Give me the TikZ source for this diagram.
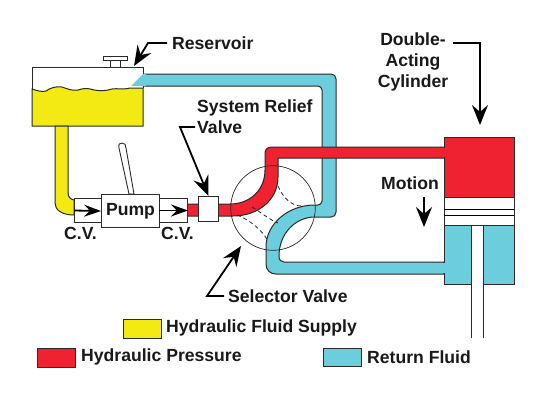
\documentclass[tikz,border=0pt]{standalone}
\usepackage{fontspec}
\setmainfont{Liberation Sans}
\usetikzlibrary{arrows.meta}
\definecolor{hyY}{HTML}{F2EA12}
\definecolor{hyR}{HTML}{EE2230}
\definecolor{hyB}{HTML}{6CCDDD}
\definecolor{edge}{HTML}{2A2A2A}
\tikzset{
 lab/.style={font=\bfseries\fontsize{17.6}{21}\selectfont,inner sep=0pt,text=black!90,align=left},
 whitebox/.style={draw=edge,fill=white,line width=1pt,inner sep=0pt,minimum width=0pt},
 lead/.style={draw=black,line width=1.8pt,-{Stealth[length=20pt,width=16pt,inset=7pt]}},
 small/.style={draw=black,line width=1.8pt,-{Stealth[length=17pt,width=12pt,inset=6pt]}},
 key/.style={draw=edge,line width=1pt,inner sep=0pt,anchor=north west},
 dsh/.style={draw=edge,line width=.8pt,dash pattern=on 4pt off 3pt}
}
\begin{document}
\begin{tikzpicture}[x=1pt,y=-1pt]
\useasboundingbox (0,0) rectangle (540,405);
\fill[white] (0,0) rectangle (540,405);
% blue return line to the reservoir
\path[fill=hyB,draw=edge,line width=1pt] (143,74) -- (331,74) .. controls (334,74) and (336,76) .. (336,79) -- (336,212) .. controls (336,215) and (334,217) .. (331,217) -- (315,217) .. controls (295,217) and (279,234) .. (279,256) .. controls (279,260) and (281,262) .. (284,262) -- (444,262) -- (444,274) -- (276,274) .. controls (270,274) and (266,270) .. (266,264) -- (266,247) .. controls (266,224) and (288,205) .. (315,205) -- (318,205) .. controls (320,205) and (322,203) .. (322,201) -- (322,90) .. controls (322,88) and (320,86) .. (318,86) -- (143,86) -- cycle;
% reservoir
\path[fill=white] (32,67) rectangle (143,126);
\fill[hyB] (131,86) -- (143,74) -- (146,74) -- (146,86) -- cycle;
\path[fill=hyY,draw=edge,line width=1pt] (32,89) .. controls (38,91) and (42,92) .. (46,91) .. controls (50,88) and (56,86) .. (62,87) .. controls (68,89) and (72,91) .. (78,90) .. controls (84,88) and (88,88) .. (94,90) .. controls (100,91) and (106,91) .. (112,89) .. controls (118,88) and (122,90) .. (130,88) -- (143,88) -- (143,126) -- (32,126) -- cycle;
\draw[edge,line width=1pt] (32,89) -- (32,67) -- (143,67) -- (143,74);
\draw[edge,line width=1pt] (143,86) -- (143,88);
\draw[edge,fill=white,line width=.8pt] (110,60) rectangle (120,67);
\draw[edge,fill=white,line width=.8pt] (103,56) rectangle (127,60);
% supply pipe
\path[fill=hyY,draw=edge,line width=1pt] (55,126) -- (55,203) .. controls (55,210) and (62,215) .. (74,215) -- (74,200) .. controls (70,199) and (68,197) .. (68,192) -- (68,126) -- cycle;
% handle
\path[fill=white,draw=edge,line width=.9pt] (129,194) -- (119,148) .. controls (118,144) and (120,143) .. (122,143) .. controls (125,143) and (126,145) .. (126,148) -- (134,194) -- cycle;
% pressure pipe
\path[fill=hyR,draw=edge,line width=1pt] (187,204) -- (230,204) .. controls (250,204) and (265,190) .. (265,170) -- (265,153) .. controls (265,149) and (268,147) .. (272,147) -- (445,147) -- (445,158) -- (278,158) -- (278,177) .. controls (278,200) and (258,216) .. (233,216) -- (187,216) -- cycle;
\draw[edge,line width=.7pt] (273,208) circle (42.3);
\draw[dsh] (237,215) .. controls (250,220) and (262,230) .. (268,241);
\draw[dsh] (252,207) .. controls (262,213) and (270,220) .. (278,223);
\draw[dsh] (278,186) .. controls (283,198) and (292,206) .. (301,206);
% cylinder
\path[key,fill=hyB] (444,225) rectangle (514,284);
\fill[hyB] (442,262.6) rectangle (445,273.4);
\path[fill=white,draw=edge,line width=1pt] (444,197) rectangle (514,225);
\draw[black,line width=1pt] (444,209) -- (514,209) (444,215) -- (514,215);
\path[fill=hyR,draw=edge,line width=1pt] (444,137) rectangle (514,197);
\fill[hyR] (442,147.6) rectangle (446,157.4);
\path[fill=white] (471,225.6) rectangle (483,338);
\draw[edge,line width=1pt] (471,225) -- (471,338) (483,225) -- (483,338);
% pump row
\node[whitebox,anchor=north west,minimum width=27pt,minimum height=24pt] (cvl) at (74,198) {};
\node[whitebox,anchor=north west,minimum width=28pt,minimum height=24pt] (cvr) at (159,198) {};
\node[whitebox,anchor=north west,minimum width=58pt,minimum height=33pt,font=\bfseries\fontsize{17.6}{21}\selectfont,text=black!90] (pump) at (101,194) {Pump};
\node[whitebox,anchor=north west,minimum width=20pt,minimum height=25pt] (relief) at (198,196) {};
\draw[small] (cvl.west) -- (pump.west);
\draw[small] (cvr.west) -- (cvr.east);
% labels
\node[lab,anchor=west] (cv1) at (64,233) {C.V.};
\node[lab,anchor=west] (cv2) at (161,233) {C.V.};
\node[lab,anchor=west] (res) at (172,43) {Reservoir};
\node[lab,anchor=north west] (srv) at (197,100) {System Relief\\Valve};
\node[lab,anchor=west] (sel) at (228,296) {Selector Valve};
\node[lab,anchor=north,align=center] (dac) at (413,33) {Double-\\Acting\\Cylinder};
\node[lab,anchor=west] (mot) at (381,183) {Motion};
% leaders
\coordinate (resb) at (148,43);
\coordinate (rest) at (134,66);
\draw[lead] (167,43) -- (resb) -- (rest);
\coordinate (srs) at (195,127);
\coordinate (srb) at (180,127);
\draw[lead] (srs) -- (srb) -- (relief.north);
\coordinate (sels) at (224,296);
\coordinate (selb) at (207,296);
\coordinate (selt) at (241,246);
\draw[lead] (sels) -- (selb) -- (selt);
\coordinate (das) at (453,43);
\coordinate (dab) at (480,43);
\coordinate (dat) at (480,125);
\draw[lead] (das) -- (dab) -- (dat);
\coordinate (ma) at (424,197);
\coordinate (mb) at (424,227);
\draw[lead] (ma) -- (mb);
% legend
\node[key,fill=hyY,minimum width=38pt,minimum height=19pt] (ky) at (123,319) {};
\node[lab,anchor=west] at (166,328) {Hydraulic Fluid Supply};
\node[key,fill=hyR,minimum width=38pt,minimum height=19pt] (kr) at (37,348) {};
\node[lab,anchor=west] at (81,357) {Hydraulic Pressure};
\node[key,fill=hyB,minimum width=38pt,minimum height=18pt] (kb) at (323,348) {};
\node[lab,anchor=west] at (367,357) {Return Fluid};
\end{tikzpicture}
\end{document}
